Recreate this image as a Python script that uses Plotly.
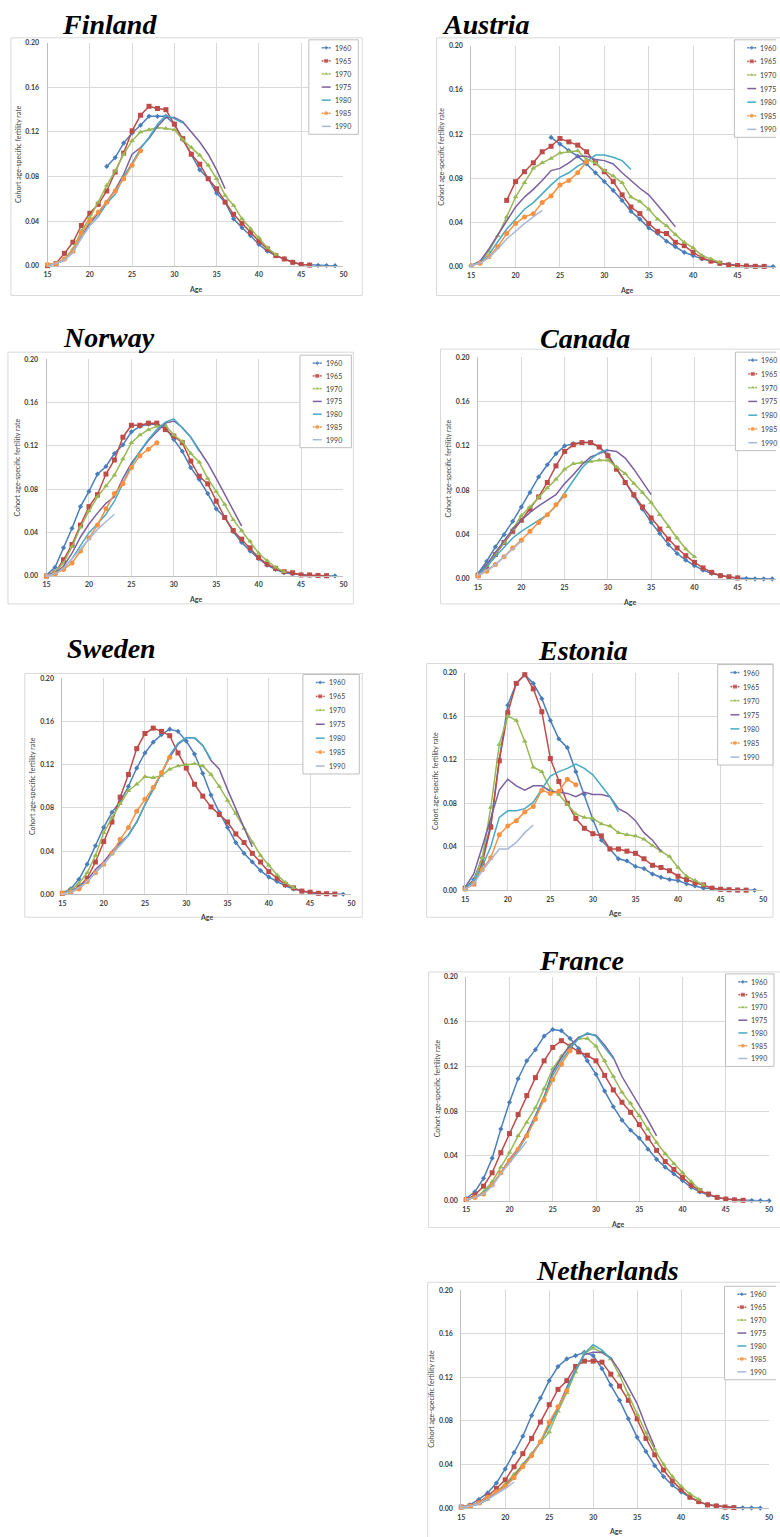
import plotly.graph_objects as go

W, H = 780, 1537

COHORTS = ["1960", "1965", "1970", "1975", "1980", "1985", "1990"]
COLORS = ["#4A7EBB", "#BE4B48", "#98B954", "#7D60A0", "#46AAC5", "#F69240", "#A9B8D8"]
SYMBOLS = ["diamond", "square", "triangle-up", None, None, "circle", None]
SIZES = [4, 5, 5, 0, 0, 5, 0]

XTICKS = [15, 20, 25, 30, 35, 40, 45, 50]
YTICKS = [0.0, 0.04, 0.08, 0.12, 0.16, 0.20]

# ---------------- data (first age given in *_START) ----------------
FIN_START = [22, 15, 15, 15, 15, 15, 15]
FIN_1960 = [0.089, 0.097, 0.110, 0.119, 0.126, 0.134, 0.134, 0.134, 0.127, 0.113, 0.100, 0.086, 0.078, 0.065, 0.057, 0.042, 0.034, 0.027, 0.019, 0.013, 0.009, 0.006, 0.003, 0.001, 0.0005, 0.0002, 0.0001, 0.0]
FIN_1965 = [0.000, 0.002, 0.011, 0.021, 0.036, 0.047, 0.055, 0.067, 0.084, 0.101, 0.121, 0.135, 0.143, 0.141, 0.140, 0.127, 0.114, 0.100, 0.091, 0.078, 0.069, 0.057, 0.046, 0.038, 0.030, 0.022, 0.015, 0.009, 0.006, 0.003, 0.001, 0.0005]
FIN_1970 = [0.001, 0.002, 0.006, 0.015, 0.031, 0.043, 0.057, 0.072, 0.085, 0.100, 0.112, 0.120, 0.122, 0.124, 0.123, 0.122, 0.113, 0.106, 0.099, 0.090, 0.078, 0.063, 0.054, 0.042, 0.033, 0.025, 0.016, 0.010]
FIN_1975 = [0.000, 0.002, 0.005, 0.013, 0.026, 0.038, 0.047, 0.057, 0.068, 0.082, 0.100, 0.106, 0.114, 0.125, 0.133, 0.133, 0.129, 0.120, 0.111, 0.100, 0.086, 0.069]
FIN_1980 = [0.000, 0.002, 0.005, 0.012, 0.025, 0.036, 0.044, 0.056, 0.064, 0.080, 0.092, 0.105, 0.115, 0.127, 0.135, 0.132, 0.128]
FIN_1985 = [0.001, 0.002, 0.006, 0.013, 0.029, 0.040, 0.048, 0.057, 0.067, 0.078, 0.090, 0.103]
FIN_1990 = [0.000, 0.002, 0.005, 0.012, 0.025, 0.036, 0.045]

AUT_START = [24, 19, 15, 15, 15, 15, 15]
AUT_1960 = [0.117, 0.111, 0.105, 0.100, 0.093, 0.085, 0.077, 0.069, 0.060, 0.050, 0.043, 0.035, 0.030, 0.023, 0.018, 0.013, 0.010, 0.007, 0.005, 0.003, 0.002, 0.001, 0.0005, 0.0003, 0.0002, 0.0001]
AUT_1965 = [0.060, 0.077, 0.086, 0.094, 0.104, 0.109, 0.116, 0.113, 0.110, 0.104, 0.094, 0.086, 0.077, 0.065, 0.054, 0.048, 0.039, 0.032, 0.030, 0.022, 0.019, 0.013, 0.008, 0.005, 0.003, 0.0015, 0.001, 0.0006, 0.0003, 0.0002]
AUT_1970 = [0.001, 0.004, 0.014, 0.028, 0.045, 0.063, 0.076, 0.089, 0.094, 0.098, 0.103, 0.104, 0.105, 0.097, 0.094, 0.087, 0.082, 0.076, 0.063, 0.059, 0.052, 0.043, 0.037, 0.029, 0.022, 0.017, 0.010, 0.007, 0.004]
AUT_1975 = [0.001, 0.005, 0.016, 0.029, 0.042, 0.054, 0.063, 0.070, 0.078, 0.087, 0.089, 0.094, 0.100, 0.100, 0.097, 0.096, 0.093, 0.085, 0.078, 0.071, 0.065, 0.056, 0.046, 0.036]
AUT_1980 = [0.001, 0.004, 0.011, 0.023, 0.034, 0.043, 0.052, 0.058, 0.066, 0.074, 0.081, 0.085, 0.091, 0.095, 0.101, 0.101, 0.099, 0.096, 0.088]
AUT_1985 = [0.001, 0.003, 0.009, 0.018, 0.030, 0.039, 0.045, 0.048, 0.058, 0.064, 0.074, 0.078, 0.085, 0.095]
AUT_1990 = [0.001, 0.003, 0.008, 0.016, 0.025, 0.032, 0.039, 0.045, 0.051]

NOR_START = [15, 15, 15, 15, 15, 15, 15]
NOR_1960 = [0.001, 0.008, 0.026, 0.044, 0.064, 0.078, 0.094, 0.101, 0.113, 0.121, 0.133, 0.138, 0.140, 0.140, 0.137, 0.126, 0.115, 0.100, 0.089, 0.076, 0.062, 0.054, 0.041, 0.031, 0.023, 0.016, 0.010, 0.006, 0.003, 0.002, 0.001, 0.0006, 0.0003, 0.0002, 0.0001]
NOR_1965 = [0.000, 0.003, 0.015, 0.029, 0.047, 0.064, 0.075, 0.094, 0.107, 0.128, 0.139, 0.139, 0.141, 0.141, 0.135, 0.129, 0.123, 0.106, 0.092, 0.085, 0.069, 0.054, 0.042, 0.034, 0.026, 0.017, 0.011, 0.007, 0.004, 0.003, 0.001, 0.001, 0.0005, 0.0003]
NOR_1970 = [0.001, 0.004, 0.012, 0.027, 0.045, 0.060, 0.073, 0.083, 0.093, 0.108, 0.123, 0.130, 0.135, 0.138, 0.139, 0.130, 0.124, 0.113, 0.105, 0.090, 0.078, 0.066, 0.052, 0.042, 0.032, 0.021, 0.014, 0.008, 0.004]
NOR_1975 = [0.001, 0.003, 0.009, 0.021, 0.036, 0.048, 0.058, 0.067, 0.073, 0.090, 0.104, 0.115, 0.125, 0.133, 0.141, 0.143, 0.137, 0.128, 0.116, 0.104, 0.090, 0.075, 0.060, 0.046]
NOR_1980 = [0.000, 0.002, 0.007, 0.016, 0.028, 0.040, 0.048, 0.057, 0.069, 0.086, 0.102, 0.115, 0.126, 0.135, 0.142, 0.145, 0.136, 0.128, 0.115]
NOR_1985 = [0.000, 0.002, 0.006, 0.012, 0.023, 0.035, 0.047, 0.062, 0.076, 0.085, 0.100, 0.111, 0.117, 0.123]
NOR_1990 = [0.000, 0.002, 0.007, 0.016, 0.025, 0.035, 0.043, 0.050, 0.057]

CAN_START = [15, 15, 15, 15, 15, 15, 15]
CAN_1960 = [0.005, 0.016, 0.029, 0.040, 0.052, 0.065, 0.078, 0.092, 0.103, 0.113, 0.120, 0.122, 0.123, 0.123, 0.119, 0.112, 0.100, 0.087, 0.075, 0.063, 0.051, 0.041, 0.031, 0.023, 0.017, 0.012, 0.008, 0.005, 0.003, 0.0015, 0.0008, 0.0004, 0.0002, 0.0001, 0.0001]
CAN_1965 = [0.003, 0.011, 0.022, 0.033, 0.043, 0.053, 0.063, 0.074, 0.087, 0.102, 0.115, 0.121, 0.123, 0.123, 0.119, 0.111, 0.099, 0.087, 0.076, 0.065, 0.055, 0.045, 0.036, 0.028, 0.021, 0.015, 0.010, 0.006, 0.003, 0.002, 0.001]
CAN_1970 = [0.004, 0.012, 0.023, 0.033, 0.045, 0.057, 0.065, 0.074, 0.082, 0.090, 0.099, 0.104, 0.105, 0.106, 0.107, 0.107, 0.101, 0.095, 0.086, 0.078, 0.069, 0.058, 0.047, 0.037, 0.027, 0.020]
CAN_1975 = [0.004, 0.013, 0.024, 0.035, 0.045, 0.053, 0.060, 0.066, 0.071, 0.076, 0.086, 0.094, 0.103, 0.110, 0.113, 0.116, 0.115, 0.109, 0.099, 0.088, 0.076]
CAN_1980 = [0.004, 0.011, 0.020, 0.029, 0.037, 0.043, 0.048, 0.053, 0.058, 0.066, 0.077, 0.089, 0.100, 0.108, 0.114, 0.117]
CAN_1985 = [0.003, 0.007, 0.013, 0.020, 0.028, 0.035, 0.043, 0.051, 0.058, 0.067, 0.075]
CAN_1990 = [0.003, 0.008, 0.013, 0.020, 0.027, 0.034]

SWE_START = [15, 15, 15, 15, 15, 15, 15]
SWE_1960 = [0.001, 0.005, 0.014, 0.028, 0.045, 0.062, 0.076, 0.086, 0.100, 0.117, 0.131, 0.141, 0.148, 0.153, 0.151, 0.142, 0.130, 0.112, 0.092, 0.076, 0.062, 0.048, 0.038, 0.030, 0.022, 0.016, 0.012, 0.008, 0.005, 0.003, 0.0015, 0.0008, 0.0004, 0.0002, 0.0001]
SWE_1965 = [0.001, 0.003, 0.007, 0.015, 0.030, 0.049, 0.067, 0.090, 0.111, 0.135, 0.149, 0.154, 0.151, 0.147, 0.131, 0.117, 0.102, 0.091, 0.081, 0.074, 0.067, 0.056, 0.048, 0.038, 0.030, 0.021, 0.015, 0.009, 0.006, 0.003, 0.002, 0.001, 0.0006, 0.0003]
SWE_1970 = [0.001, 0.004, 0.010, 0.020, 0.036, 0.057, 0.071, 0.084, 0.096, 0.102, 0.109, 0.108, 0.110, 0.116, 0.119, 0.120, 0.121, 0.119, 0.111, 0.100, 0.087, 0.075, 0.061, 0.048, 0.036, 0.027, 0.018, 0.011, 0.006]
SWE_1975 = [0.001, 0.003, 0.007, 0.013, 0.023, 0.030, 0.040, 0.048, 0.055, 0.067, 0.083, 0.098, 0.112, 0.127, 0.139, 0.145, 0.145, 0.138, 0.124, 0.116, 0.097, 0.079, 0.061, 0.044]
SWE_1980 = [0.001, 0.003, 0.006, 0.012, 0.020, 0.029, 0.038, 0.047, 0.055, 0.067, 0.083, 0.097, 0.112, 0.129, 0.140, 0.145, 0.145, 0.138, 0.125]
SWE_1985 = [0.001, 0.002, 0.005, 0.012, 0.020, 0.028, 0.038, 0.051, 0.062, 0.077, 0.088, 0.099, 0.113, 0.127]
SWE_1990 = [0.001, 0.002, 0.006, 0.012, 0.020, 0.028, 0.037, 0.045, 0.054]

EST_START = [15, 15, 15, 15, 15, 15, 15]
EST_1960 = [0.002, 0.010, 0.030, 0.060, 0.120, 0.170, 0.190, 0.198, 0.190, 0.176, 0.156, 0.139, 0.131, 0.109, 0.088, 0.065, 0.046, 0.038, 0.029, 0.027, 0.022, 0.020, 0.015, 0.012, 0.010, 0.009, 0.006, 0.004, 0.002, 0.002, 0.001, 0.0005, 0.0003, 0.0002, 0.0001]
EST_1965 = [0.002, 0.006, 0.025, 0.058, 0.119, 0.163, 0.190, 0.198, 0.185, 0.164, 0.121, 0.100, 0.080, 0.066, 0.057, 0.052, 0.050, 0.038, 0.038, 0.036, 0.034, 0.029, 0.023, 0.021, 0.018, 0.013, 0.010, 0.007, 0.005, 0.002, 0.001, 0.0006, 0.0003, 0.0002]
EST_1970 = [0.002, 0.008, 0.030, 0.076, 0.134, 0.160, 0.156, 0.137, 0.113, 0.109, 0.093, 0.088, 0.079, 0.070, 0.067, 0.066, 0.061, 0.059, 0.053, 0.051, 0.050, 0.047, 0.041, 0.036, 0.031, 0.021, 0.013, 0.009, 0.005]
EST_1975 = [0.003, 0.015, 0.040, 0.067, 0.092, 0.102, 0.096, 0.092, 0.096, 0.096, 0.091, 0.090, 0.089, 0.086, 0.090, 0.088, 0.088, 0.086, 0.075, 0.071, 0.064, 0.053, 0.046, 0.036]
EST_1980 = [0.002, 0.008, 0.022, 0.040, 0.067, 0.073, 0.073, 0.075, 0.081, 0.093, 0.105, 0.109, 0.112, 0.116, 0.112, 0.106, 0.096, 0.086, 0.072]
EST_1985 = [0.001, 0.006, 0.019, 0.030, 0.051, 0.059, 0.064, 0.072, 0.077, 0.092, 0.089, 0.091, 0.102, 0.097]
EST_1990 = [0.001, 0.006, 0.018, 0.028, 0.038, 0.038, 0.044, 0.053, 0.060]

FRA_START = [15, 15, 15, 15, 15, 15, 15]
FRA_1960 = [0.002, 0.008, 0.020, 0.038, 0.064, 0.088, 0.109, 0.125, 0.135, 0.147, 0.153, 0.152, 0.145, 0.136, 0.125, 0.113, 0.098, 0.084, 0.072, 0.063, 0.056, 0.046, 0.037, 0.030, 0.024, 0.018, 0.012, 0.008, 0.005, 0.003, 0.0015, 0.0008, 0.0004, 0.0002, 0.0001, 0.0]
FRA_1965 = [0.001, 0.005, 0.013, 0.025, 0.043, 0.060, 0.077, 0.094, 0.110, 0.125, 0.137, 0.143, 0.138, 0.133, 0.130, 0.125, 0.112, 0.099, 0.088, 0.079, 0.068, 0.056, 0.045, 0.035, 0.028, 0.021, 0.014, 0.009, 0.006, 0.003, 0.0015, 0.0008, 0.0004]
FRA_1970 = [0.001, 0.003, 0.008, 0.017, 0.030, 0.043, 0.058, 0.070, 0.083, 0.100, 0.118, 0.129, 0.139, 0.145, 0.145, 0.138, 0.125, 0.111, 0.097, 0.087, 0.076, 0.064, 0.052, 0.042, 0.033, 0.025, 0.017, 0.010]
FRA_1975 = [0.001, 0.003, 0.007, 0.014, 0.025, 0.037, 0.047, 0.060, 0.076, 0.093, 0.115, 0.128, 0.139, 0.146, 0.149, 0.148, 0.139, 0.128, 0.111, 0.098, 0.086, 0.072, 0.058]
FRA_1980 = [0.001, 0.003, 0.007, 0.014, 0.025, 0.035, 0.045, 0.058, 0.075, 0.092, 0.112, 0.125, 0.136, 0.145, 0.150, 0.147, 0.137, 0.127]
FRA_1985 = [0.001, 0.003, 0.006, 0.014, 0.025, 0.036, 0.046, 0.058, 0.073, 0.090, 0.108, 0.122, 0.134]
FRA_1990 = [0.001, 0.003, 0.006, 0.013, 0.024, 0.034, 0.043, 0.053]

NLD_START = [15, 15, 15, 15, 15, 15, 15]
NLD_1960 = [0.001, 0.003, 0.008, 0.014, 0.023, 0.036, 0.051, 0.066, 0.085, 0.101, 0.117, 0.130, 0.137, 0.140, 0.143, 0.140, 0.128, 0.113, 0.099, 0.082, 0.065, 0.052, 0.039, 0.029, 0.021, 0.015, 0.010, 0.006, 0.003, 0.002, 0.001, 0.0006, 0.0003, 0.0002, 0.0001]
NLD_1965 = [0.001, 0.002, 0.005, 0.011, 0.018, 0.026, 0.038, 0.050, 0.064, 0.079, 0.095, 0.109, 0.117, 0.130, 0.135, 0.135, 0.134, 0.123, 0.112, 0.099, 0.082, 0.064, 0.049, 0.035, 0.025, 0.017, 0.010, 0.006, 0.003, 0.002, 0.001, 0.0005]
NLD_1970 = [0.001, 0.002, 0.004, 0.008, 0.015, 0.022, 0.031, 0.040, 0.050, 0.060, 0.070, 0.089, 0.106, 0.125, 0.142, 0.147, 0.143, 0.137, 0.122, 0.104, 0.086, 0.069, 0.054, 0.040, 0.029, 0.020, 0.013, 0.008]
NLD_1975 = [0.001, 0.002, 0.004, 0.008, 0.014, 0.021, 0.029, 0.039, 0.049, 0.061, 0.076, 0.092, 0.111, 0.127, 0.141, 0.143, 0.143, 0.138, 0.126, 0.111, 0.096, 0.075, 0.056]
NLD_1980 = [0.001, 0.002, 0.004, 0.008, 0.014, 0.020, 0.028, 0.038, 0.049, 0.061, 0.075, 0.091, 0.109, 0.127, 0.142, 0.150, 0.145, 0.137]
NLD_1985 = [0.001, 0.002, 0.005, 0.010, 0.015, 0.020, 0.028, 0.038, 0.048, 0.061, 0.079, 0.093, 0.108]
NLD_1990 = [0.001, 0.002, 0.004, 0.008, 0.013, 0.018, 0.024]

COUNTRIES = ["Finland", "Austria", "Norway", "Canada", "Sweden", "Estonia", "France", "Netherlands"]
SERIES = {
    "Finland": (FIN_START, [FIN_1960, FIN_1965, FIN_1970, FIN_1975, FIN_1980, FIN_1985, FIN_1990]),
    "Austria": (AUT_START, [AUT_1960, AUT_1965, AUT_1970, AUT_1975, AUT_1980, AUT_1985, AUT_1990]),
    "Norway": (NOR_START, [NOR_1960, NOR_1965, NOR_1970, NOR_1975, NOR_1980, NOR_1985, NOR_1990]),
    "Canada": (CAN_START, [CAN_1960, CAN_1965, CAN_1970, CAN_1975, CAN_1980, CAN_1985, CAN_1990]),
    "Sweden": (SWE_START, [SWE_1960, SWE_1965, SWE_1970, SWE_1975, SWE_1980, SWE_1985, SWE_1990]),
    "Estonia": (EST_START, [EST_1960, EST_1965, EST_1970, EST_1975, EST_1980, EST_1985, EST_1990]),
    "France": (FRA_START, [FRA_1960, FRA_1965, FRA_1970, FRA_1975, FRA_1980, FRA_1985, FRA_1990]),
    "Netherlands": (NLD_START, [NLD_1960, NLD_1965, NLD_1970, NLD_1975, NLD_1980, NLD_1985, NLD_1990]),
}

# ---------------- layout geometry (pixels) ----------------
# plot area: x of age 15, x of age 50, y of 0.20, y of 0.00
PLOT_PX = {
    "Finland": (44, 343, 38, 262),
    "Austria": (472, 786, 41, 263),
    "Norway": (43, 343, 356, 574),
    "Canada": (479, 785, 354, 577),
    "Sweden": (59, 351, 677, 894),
    "Estonia": (466, 767, 671, 890),
    "France": (467, 773, 977, 1202),
    "Netherlands": (462, 773, 1292, 1511),
}
BOX_PX = {
    "Finland": (7, 33, 362, 292),
    "Austria": (437, 33, 800, 292),
    "Norway": (4, 349, 353, 602),
    "Canada": (441, 346, 800, 602),
    "Sweden": (21, 672, 362, 917),
    "Estonia": (427, 662, 777, 917),
    "France": (429, 972, 800, 1229),
    "Netherlands": (428, 1284, 800, 1545),
}
LEGEND_PX = {
    "Finland": (308, 35, 358, 130),
    "Austria": (738, 35, 800, 133),
    "Norway": (299, 352, 351, 445),
    "Canada": (739, 349, 800, 448),
    "Sweden": (302, 673, 359, 773),
    "Estonia": (721, 663, 777, 764),
    "France": (729, 974, 778, 1067),
    "Netherlands": (728, 1288, 800, 1382),
}
TITLE_PX = {
    "Finland": (107, 20),
    "Austria": (487, 20),
    "Norway": (106, 334),
    "Canada": (587, 335),
    "Sweden": (109, 647),
    "Estonia": (585, 649),
    "France": (583, 960),
    "Netherlands": (610, 1272),
}

GRID = "#D9D9D9"
AXIS = "#BFBFBF"
TXT = "#404040"
SANS = "Lato"
TICKFONT = dict(family=SANS, size=7, color=TXT, weight="bold")


def px(x):
    return x / W


def py(y):
    return 1 - y / H


fig = go.Figure()
annotations = []
shapes = []

for k, name in enumerate(COUNTRIES):
    n = k + 1
    sfx = "" if n == 1 else str(n)
    xs, ys = "x" + sfx, "y" + sfx
    x15, x50, ytop, ybot = PLOT_PX[name]
    ppy = (x50 - x15) / 35.0
    xr = min(x50, W)
    fig.update_layout({
        "xaxis" + sfx: dict(domain=[px(x15), px(xr)], range=[15, 15 + (xr - x15) / ppy], anchor=ys,
                             tickvals=XTICKS, showgrid=True, gridcolor=GRID, gridwidth=1,
                             showline=True, linecolor=AXIS, linewidth=1, zeroline=False,
                             ticks="", tickfont=TICKFONT, ticklabelstandoff=2, fixedrange=True),
        "yaxis" + sfx: dict(domain=[py(ybot), py(ytop)], range=[0, 0.2], anchor=xs,
                             tickvals=YTICKS, tickformat=".2f", showgrid=True, gridcolor=GRID,
                             gridwidth=1, showline=True, linecolor=AXIS, linewidth=1, zeroline=False,
                             ticks="", tickfont=TICKFONT, ticklabelstandoff=6, fixedrange=True),
    })
    starts, series = SERIES[name]
    for i, vals in enumerate(series):
        ages = list(range(starts[i], starts[i] + len(vals)))
        sym = SYMBOLS[i]
        fig.add_trace(go.Scatter(
            x=ages, y=vals, xaxis=xs, yaxis=ys, name=COHORTS[i],
            mode="lines+markers" if sym else "lines",
            line=dict(color=COLORS[i], width=1.5),
            marker=dict(symbol=sym or "circle", size=SIZES[i], color=COLORS[i]),
            cliponaxis=False, showlegend=False, hoverinfo="skip"))

    # outer chart-area border
    bx0, by0, bx1, by1 = BOX_PX[name]
    shapes.append(dict(type="rect", xref="paper", yref="paper", x0=px(bx0), x1=px(bx1),
                       y0=py(by1), y1=py(by0), line=dict(color=GRID, width=1), layer="below"))
    # title
    tx, ty = TITLE_PX[name]
    annotations.append(dict(text="<b><i>%s</i></b>" % name, x=px(tx), y=py(ty), xref="paper", yref="paper",
                            showarrow=False, xanchor="center", yanchor="middle",
                            font=dict(family="Liberation Serif", size=28, color="#000000")))
    # axis titles
    annotations.append(dict(text="Age", x=px((x15 + x50) / 2.0), y=py(ybot + 23), xref="paper", yref="paper",
                            showarrow=False, xanchor="center", yanchor="middle",
                            font=dict(family=SANS, size=7, color=TXT, weight="bold")))
    annotations.append(dict(text="Cohort age-specific fertility rate", x=px(x15 - 30), y=py((ytop + ybot) / 2.0),
                            xref="paper", yref="paper", showarrow=False, textangle=-90,
                            xanchor="center", yanchor="middle",
                            font=dict(family=SANS, size=7, color=TXT)))

    # legend (drawn on full-page overlay axes)
    lx0, ly0, lx1, ly1 = LEGEND_PX[name]
    fig.add_trace(go.Scatter(x=[lx0, lx1, lx1, lx0, lx0], y=[ly0, ly0, ly1, ly1, ly0],
                             xaxis="x9", yaxis="y9", mode="lines", fill="toself", fillcolor="white",
                             line=dict(color=AXIS, width=1), showlegend=False, hoverinfo="skip"))
    step = (ly1 - ly0 - 16) / 6.0
    for i in range(len(COHORTS)):
        ry = ly0 + 8 + i * step
        a, b = lx0 + 13, lx0 + 22
        fig.add_trace(go.Scatter(x=[a, (a + b) / 2.0, b], y=[ry, ry, ry], xaxis="x9", yaxis="y9",
                                 mode="lines+markers" if SYMBOLS[i] else "lines",
                                 line=dict(color=COLORS[i], width=1.5),
                                 marker=dict(symbol=SYMBOLS[i] or "circle", size=[0, SIZES[i], 0],
                                             color=COLORS[i]),
                                 showlegend=False, hoverinfo="skip"))
        annotations.append(dict(text=COHORTS[i], x=px(lx0 + 24), y=py(ry), xref="paper", yref="paper",
                                showarrow=False, xanchor="left", yanchor="middle",
                                font=dict(family=SANS, size=7, color=TXT)))

fig.update_layout(
    xaxis9=dict(domain=[0, 1], range=[0, W], anchor="y9", visible=False, fixedrange=True),
    yaxis9=dict(domain=[0, 1], range=[H, 0], anchor="x9", visible=False, fixedrange=True),
    width=W, height=H, margin=dict(l=0, r=0, t=0, b=0),
    paper_bgcolor="white", plot_bgcolor="rgba(0,0,0,0)",
    showlegend=False, annotations=annotations, shapes=shapes,
)

fig.write_html("out.html")
